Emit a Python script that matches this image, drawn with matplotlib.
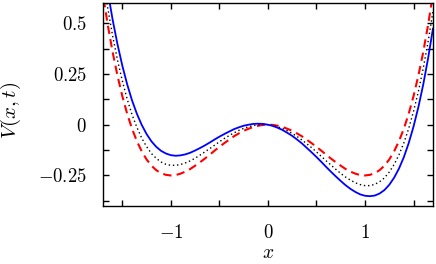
import numpy as np
import matplotlib.pyplot as plt

plt.rcParams['mathtext.fontset'] = 'cm'
plt.rcParams['font.family'] = 'serif'

# sample positions, -1.7 .. 1.7 every 0.05
x = np.linspace(-1.7, 1.7, 69)

# symmetric well (red dashed)
v_sym = [0.643, 0.492, 0.358, 0.242, 0.141, 0.054, -0.020, -0.081, -0.131,
         -0.171, -0.202, -0.224, -0.239, -0.247, -0.250, -0.248, -0.241,
         -0.231, -0.218, -0.202, -0.185, -0.167, -0.148, -0.128, -0.109,
         -0.091, -0.074, -0.057, -0.043, -0.030, -0.020, -0.011, -0.005,
         -0.001, 0.000,
         -0.001, -0.005, -0.011, -0.020, -0.030, -0.043, -0.057, -0.074,
         -0.091, -0.109, -0.128, -0.148, -0.167, -0.185, -0.202, -0.218,
         -0.231, -0.241, -0.248, -0.250, -0.247, -0.239, -0.224, -0.202,
         -0.171, -0.131, -0.081, -0.020, 0.054, 0.141, 0.242, 0.358, 0.492,
         0.643]

# half tilted (black dotted)
v_mid = [0.728, 0.574, 0.438, 0.319, 0.216, 0.126, 0.050, -0.013, -0.066,
         -0.108, -0.142, -0.166, -0.184, -0.195, -0.200, -0.200, -0.196,
         -0.188, -0.178, -0.165, -0.150, -0.134, -0.118, -0.101, -0.084,
         -0.068, -0.054, -0.040, -0.028, -0.018, -0.010, -0.004, 0.000,
         0.001, 0.000,
         -0.004, -0.010, -0.019, -0.030, -0.043, -0.058, -0.075, -0.094,
         -0.113, -0.134, -0.156, -0.178, -0.199, -0.220, -0.240, -0.258,
         -0.273, -0.286, -0.295, -0.300, -0.300, -0.294, -0.281, -0.262,
         -0.233, -0.196, -0.148, -0.090, -0.019, 0.066, 0.164, 0.278, 0.409,
         0.558]

# fully tilted (blue solid)
v_tilt = [0.813, 0.657, 0.518, 0.397, 0.291, 0.199, 0.120, 0.054, -0.001,
          -0.046, -0.082, -0.109, -0.129, -0.142, -0.150, -0.153, -0.151,
          -0.146, -0.138, -0.127, -0.115, -0.102, -0.088, -0.073, -0.059,
          -0.046, -0.034, -0.022, -0.013, -0.005, 0.000, 0.004, 0.005,
          0.004, 0.000,
          -0.006, -0.015, -0.026, -0.040, -0.055, -0.073, -0.092, -0.114,
          -0.136, -0.159, -0.183, -0.208, -0.232, -0.255, -0.277, -0.298,
          -0.316, -0.331, -0.343, -0.350, -0.352, -0.349, -0.339, -0.322,
          -0.296, -0.261, -0.216, -0.160, -0.091, -0.009, 0.087, 0.198, 0.327,
          0.473]

xticks = [-1.5, -1, -0.5, 0, 0.5, 1, 1.5]
xlabels = ['', '$-1$', '', '$0$', '', '$1$', '']
yticks = [-0.375, -0.25, -0.125, 0, 0.125, 0.25, 0.375, 0.5]
ylabels = ['', '$-0.25$', '', '$0$', '', '$0.25$', '', '$0.5$']

fig = plt.figure(figsize=(4.36, 2.64), dpi=100)
ax = fig.add_axes([0.236, 0.22, 0.757, 0.769])

ax.plot(x, v_sym, color='red', lw=1.5, ls=(0, (4, 2.5)))
ax.plot(x, v_mid, color='black', lw=1.0, ls=(0, (1, 2)))
ax.plot(x, v_tilt, color='blue', lw=1.3)

ax.set_xlim(-1.7, 1.7)
ax.set_ylim(-0.4, 0.6)
ax.set_xticks(xticks)
ax.set_xticklabels(xlabels)
ax.set_yticks(yticks)
ax.set_yticklabels(ylabels)
ax.tick_params(direction='in', top=True, right=True, length=4.5, width=1,
               labelsize=13.5)
ax.tick_params(axis='x', pad=13)
ax.tick_params(axis='y', pad=11.5)
for s in ax.spines.values():
    s.set_linewidth(1.0)

ax.set_xlabel('$x$', fontsize=14)
ax.set_ylabel('$V(x,t)$', fontsize=15)
ax.xaxis.set_label_coords(0.5, -0.19)
ax.yaxis.set_label_coords(-0.243, 0.47)

fig.savefig('out.png', dpi=100)
